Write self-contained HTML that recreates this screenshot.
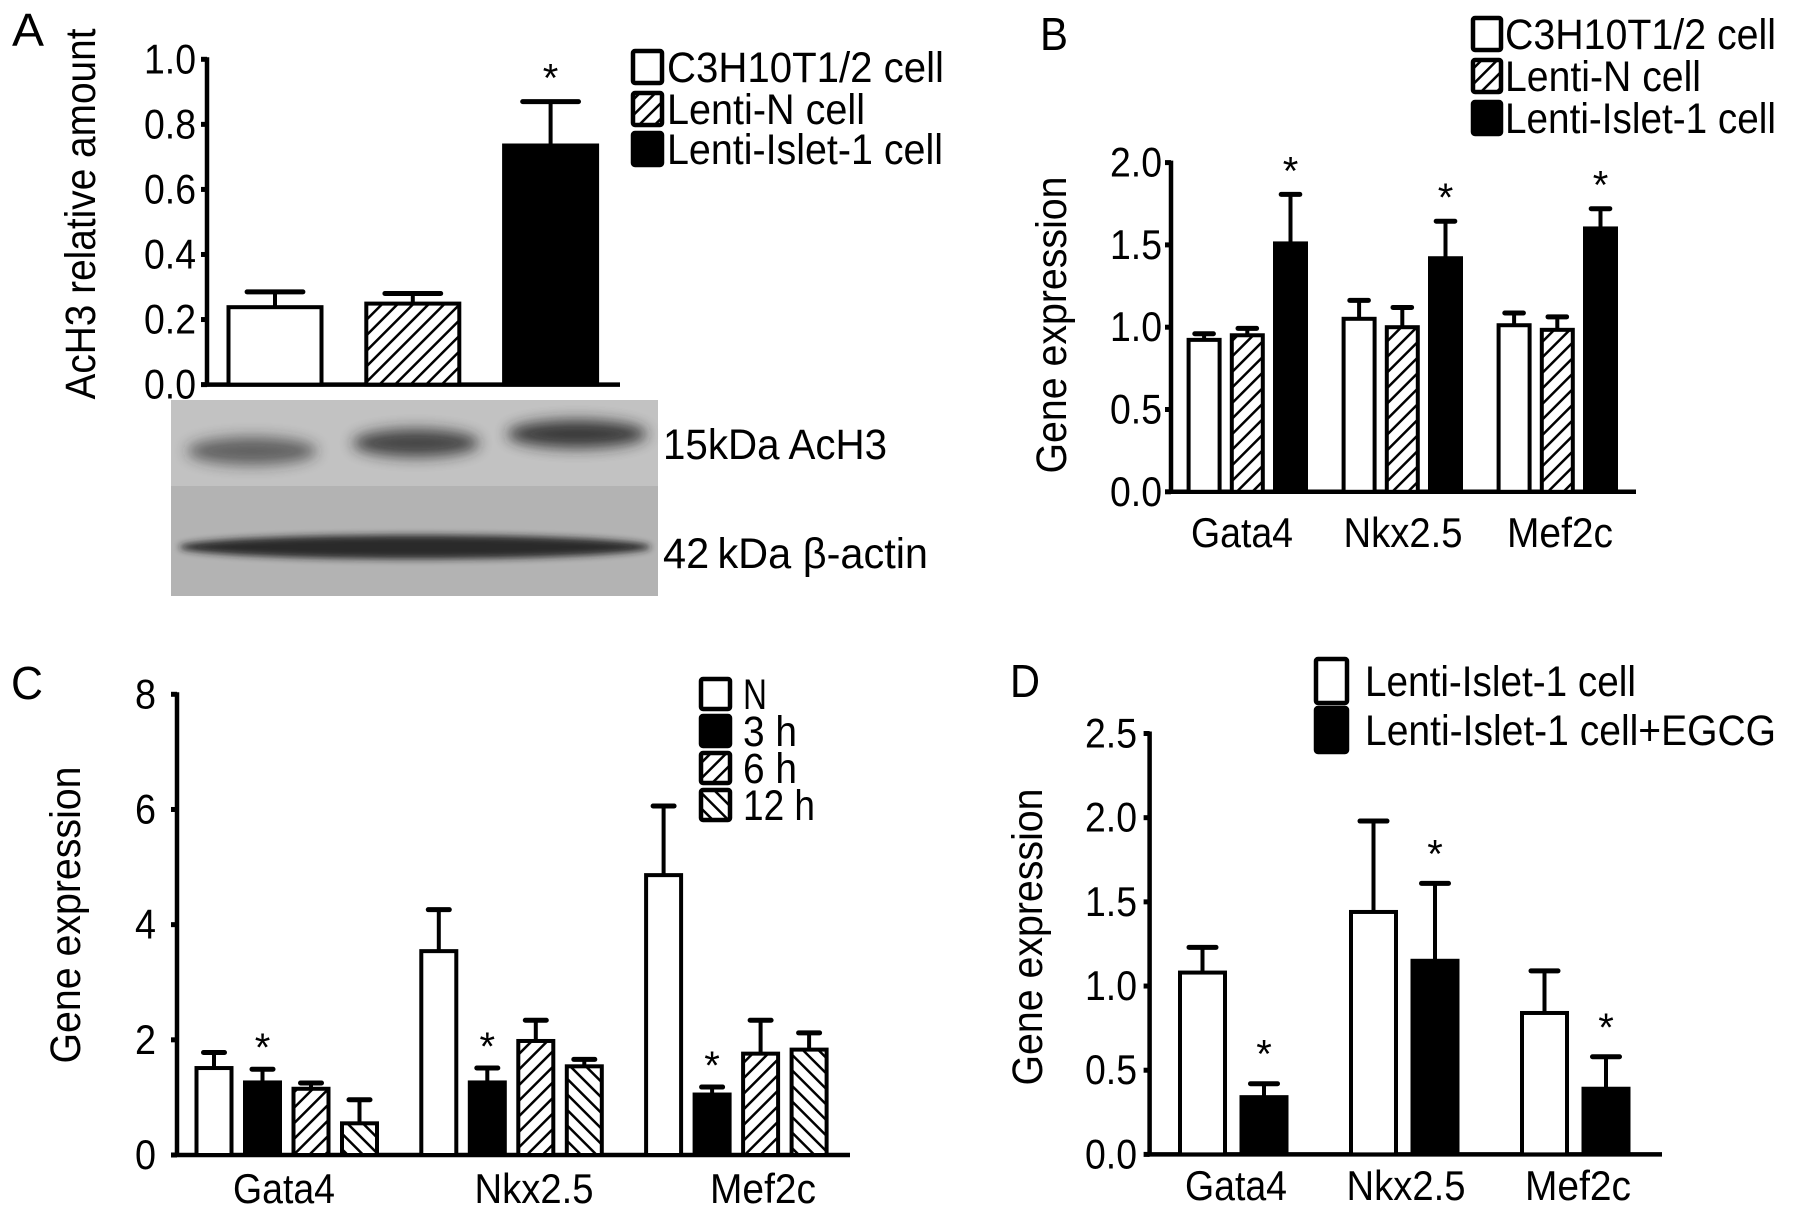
<!DOCTYPE html>
<html><head><meta charset="utf-8">
<style>
html,body{margin:0;padding:0;background:#fff;}
svg{display:block;}
text{font-family:"Liberation Sans",Arial,sans-serif;fill:#000;}
</style></head>
<body>
<svg id="fig" xmlns="http://www.w3.org/2000/svg" width="1795" height="1219" viewBox="0 0 1795 1219">
<defs>
<pattern id="hatchR" patternUnits="userSpaceOnUse" width="11" height="11" patternTransform="rotate(45)">
<rect width="11" height="11" fill="#fff"/><line x1="0" y1="0" x2="0" y2="11" stroke="#000" stroke-width="5"/></pattern>
<pattern id="hatchL" patternUnits="userSpaceOnUse" width="11" height="11" patternTransform="rotate(-45)">
<rect width="11" height="11" fill="#fff"/><line x1="0" y1="0" x2="0" y2="11" stroke="#000" stroke-width="5"/></pattern>
<filter id="blur6" x="-20%" y="-100%" width="140%" height="300%"><feGaussianBlur stdDeviation="7"/></filter>
<filter id="blur3" x="-20%" y="-100%" width="140%" height="300%"><feGaussianBlur stdDeviation="3.5"/></filter>
</defs>
<g id="root"></g>
</svg>
<script>
// ---------- data ----------
// Panel A
const aCats = ["C3H10T1/2 cell","Lenti-N cell","Lenti-Islet-1 cell"];
const aVals = [0.238, 0.249, 0.735];
const aErr = [0.285, 0.28, 0.87];
const aStar = [false, false, true];
const aTicks = ["0.0","0.2","0.4","0.6","0.8","1.0"];
const aTickVals = [0,0.2,0.4,0.6,0.8,1.0];
// Panel B
const bGenes = ["Gata4","Nkx2.5","Mef2c"];
const bSeries = ["C3H10T1/2 cell","Lenti-N cell","Lenti-Islet-1 cell"];
const bC3H = [0.923, 1.051, 1.012];
const bC3HErr = [0.96, 1.163, 1.086];
const bLentiN = [0.951, 1.0, 0.984];
const bLentiNErr = [0.993, 1.12, 1.063];
const bIslet = [1.509, 1.419, 1.6];
const bIsletErr = [1.807, 1.644, 1.72];
const bTicks = ["0.0","0.5","1.0","1.5","2.0"];
const bTickVals = [0,0.5,1.0,1.5,2.0];
// Panel C
const cGenes = ["Gata4","Nkx2.5","Mef2c"];
const cSeries = ["N","3 h","6 h","12 h"];
const cN = [1.51, 3.54, 4.86];
const cNErr = [1.78, 4.26, 6.06];
const c3h = [1.26, 1.26, 1.05];
const c3hErr = [1.49, 1.51, 1.18];
const c6h = [1.15, 1.98, 1.76];
const c6hErr = [1.25, 2.34, 2.34];
const c12h = [0.55, 1.54, 1.83];
const c12hErr = [0.96, 1.66, 2.12];
const cTicks = ["0","2","4","6","8"];
const cTickVals = [0,2,4,6,8];
// Panel D
const dGenes = ["Gata4","Nkx2.5","Mef2c"];
const dSeries = ["Lenti-Islet-1 cell","Lenti-Islet-1 cell+EGCG"];
const dIslet = [1.08, 1.44, 0.84];
const dIsletErr = [1.23, 1.98, 1.09];
const dEGCG = [0.34, 1.15, 0.39];
const dEGCGErr = [0.42, 1.61, 0.58];
const dTicks = ["0.0","0.5","1.0","1.5","2.0","2.5"];
const dTickVals = [0,0.5,1.0,1.5,2.0,2.5];

// ---------- helpers ----------
const NS = "http://www.w3.org/2000/svg";
const root = document.getElementById("root");
function mk(tag, attrs, parent){
  const e = document.createElementNS(NS, tag);
  for (const k in attrs) e.setAttribute(k, attrs[k]);
  (parent||root).appendChild(e);
  return e;
}
function txt(s, attrs, parent){ const t = mk("text", attrs, parent); t.textContent = s; return t; }
const FILLS = {open:"#fff", black:"#000", hatchR:"url(#hatchR)", hatchL:"url(#hatchL)"};

function panel(cfg){
  const g = mk("g", {});
  
  
  const y = v => cfg.y0 - (v - cfg.min) / (cfg.max - cfg.min) * (cfg.y0 - cfg.yTop);
  const ya = mk("line", {x1:cfg.ax, y1:cfg.yTop-2, x2:cfg.ax, y2:cfg.y0+2, stroke:"#000","stroke-width":4.5}, g);
  
  
  const xa = mk("line", {x1:cfg.ax-2, y1:cfg.y0, x2:cfg.xEnd, y2:cfg.y0, stroke:"#000","stroke-width":4.5}, g);
  
  
  cfg.tickVals.forEach((v,i)=>{
    const tk = mk("line", {x1:cfg.ax-6, y1:y(v), x2:cfg.ax, y2:y(v), stroke:"#000","stroke-width":5}, g);
    
    
    const tl = txt(cfg.ticks[i], {x:cfg.tickX, y:y(v)+14, "font-size":42, "text-anchor":"end", "textLength":cfg.ticks[i].length>1?52:21, "lengthAdjust":"spacingAndGlyphs"}, g);
    
    
  });
  const tt = txt(cfg.title, {x:0, y:0, "font-size":43, "text-anchor":"middle", transform:`translate(${cfg.titleX+2},${cfg.titleY}) rotate(-90)`, textLength:cfg.titleLen, lengthAdjust:"spacingAndGlyphs"}, g);
  
  
  const lt = txt(cfg.letter, {x:cfg.letterX, y:cfg.letterY, "font-size":46, textLength:cfg.letterW||30, lengthAdjust:"spacingAndGlyphs"}, g);
  
  
  cfg.series.forEach((s, si)=>{
    s.vals.forEach((v, gi)=>{
      const x0 = cfg.start + gi*cfg.groupStep + si*cfg.barStep;
      const bw = cfg.barW;
      const cx = x0 + bw/2;
      const eb = mk("line", {x1:cx, y1:y(s.err[gi]), x2:cx, y2:y(v), stroke:"#000","stroke-width":4}, g);
      
      
      const cap = mk("line", {x1:cx-bw*0.3, y1:y(s.err[gi]), x2:cx+bw*0.3, y2:y(s.err[gi]), stroke:"#000","stroke-width":5,"stroke-linecap":"round"}, g);
      
      
      const r = mk("rect", {x:x0, y:y(v), width:bw, height:cfg.y0 - y(v), fill:FILLS[s.fill], stroke:"#000","stroke-width":4}, g);
      
      
      if (s.star && s.star[gi]) {
        const st = txt("*", {x:cx, y:y(s.err[gi]) - (cfg.starGap||18) + 6, "font-size":40, "text-anchor":"middle"}, g);
        
        
      }
    });
  });
  if (cfg.cats) cfg.cats.forEach((c,gi)=>{
    const cl = txt(c, {x:cfg.catX[gi], y:cfg.catY+2, "font-size":42, "text-anchor":"middle", textLength:cfg.catLen[gi], lengthAdjust:"spacingAndGlyphs"}, g);
    
    
  });
  cfg.legend.forEach((L,i)=>{
    const cy = cfg.legY[i];
    const lb = mk("rect", {x:cfg.legX, y:cy - cfg.legH/2, width:cfg.legW, height:cfg.legH, fill:FILLS[L.fill], stroke:"#000","stroke-width":4.5, rx:2}, g);
    
    
    const lt2 = txt(L.label, {x:cfg.legTX, y:cy+15, "font-size":43, textLength:L.len, lengthAdjust:"spacingAndGlyphs"}, g);
    
    
  });
  return g;
}

panel({name:"panel-a", letter:"A", letterX:12, letterY:46, letterW:32, ax:207, y0:384.6, yTop:59.3, min:0, max:1, xEnd:620,
  ticks:aTicks, tickVals:aTickVals, tickX:196, title:"AcH3 relative amount", titleX:93, titleY:214, titleLen:371,
  start:228.5, groupStep:0, barStep:137.8, barW:93, catsShort:["all"], starGap:16,
  series:[{vals:[aVals[0]],err:[aErr[0]],fill:"open",star:[aStar[0]]},{vals:[aVals[1]],err:[aErr[1]],fill:"hatchR",star:[aStar[1]]},{vals:[aVals[2]],err:[aErr[2]],fill:"black",star:[aStar[2]]}],
  legend:[{label:aCats[0],fill:"open",len:277},{label:aCats[1],fill:"hatchR",len:198},{label:aCats[2],fill:"black",len:276}],
  legX:633, legW:29, legH:32, legTX:667, legY:[67,109,149]});

panel({name:"panel-b", letter:"B", letterX:1040, letterY:50, letterW:28, ax:1171, y0:491.8, yTop:162.6, min:0, max:2, xEnd:1636,
  ticks:bTicks, tickVals:bTickVals, tickX:1162, title:"Gene expression", titleX:1064, titleY:325, titleLen:297,
  start:1188.6, groupStep:155, barStep:43.2, barW:31, catsShort:bGenes, starGap:16,
  cats:bGenes, catX:[1242,1403,1560], catY:545, catLen:[102,119,106],
  series:[{vals:bC3H,err:bC3HErr,fill:"open"},{vals:bLentiN,err:bLentiNErr,fill:"hatchR"},{vals:bIslet,err:bIsletErr,fill:"black",star:[true,true,true]}],
  legend:[{label:bSeries[0],fill:"open",len:271},{label:bSeries[1],fill:"hatchR",len:196},{label:bSeries[2],fill:"black",len:271}],
  legX:1473, legW:28, legH:32, legTX:1505, legY:[34,76,118]});

panel({name:"panel-c", letter:"C", letterX:11, letterY:699, letterW:32, ax:177, y0:1155, yTop:694.3, min:0, max:8, xEnd:850,
  ticks:cTicks, tickVals:cTickVals, tickX:156, title:"Gene expression", titleX:78, titleY:915, titleLen:297,
  start:196.5, groupStep:224.8, barStep:48.5, barW:35, catsShort:cGenes, starGap:14,
  cats:cGenes, catX:[284,534,763], catY:1201, catLen:[102,119,106],
  series:[{vals:cN,err:cNErr,fill:"open"},{vals:c3h,err:c3hErr,fill:"black",star:[true,true,true]},{vals:c6h,err:c6hErr,fill:"hatchR"},{vals:c12h,err:c12hErr,fill:"hatchL"}],
  legend:[{label:cSeries[0],fill:"open",len:24},{label:cSeries[1],fill:"black",len:54},{label:cSeries[2],fill:"hatchR",len:54},{label:cSeries[3],fill:"hatchL",len:72}],
  legX:701, legW:29, legH:30, legTX:743, legY:[694,731,768,805]});

panel({name:"panel-d", letter:"D", letterX:1010, letterY:697, letterW:30, ax:1149.6, y0:1154.4, yTop:733.5, min:0, max:2.5, xEnd:1662,
  ticks:dTicks, tickVals:dTickVals, tickX:1137, title:"Gene expression", titleX:1040, titleY:937, titleLen:297,
  start:1180, groupStep:171, barStep:61.5, barW:45, catsShort:dGenes, starGap:22,
  cats:dGenes, catX:[1236,1406,1578], catY:1198, catLen:[102,119,106],
  series:[{vals:dIslet,err:dIsletErr,fill:"open"},{vals:dEGCG,err:dEGCGErr,fill:"black",star:[true,true,true]}],
  legend:[{label:dSeries[0],fill:"open",len:271},{label:dSeries[1],fill:"black",len:411}],
  legX:1316, legW:31, legH:44, legTX:1365, legY:[681,730]});

// Western blot
const blot = mk("g", {});


mk("rect", {x:171, y:400, width:487, height:86, fill:"#c2c2c2"}, blot);
mk("rect", {x:171, y:486, width:487, height:110, fill:"#b3b3b3"}, blot);
const bands = [[252,451,130,0.6],[416,443,127,0.78],[577,434,140,0.85]];
bands.forEach(b=>{
  const e = mk("ellipse", {cx:b[0], cy:b[1], rx:b[2]/2, ry:14, fill:"#222", opacity:b[3], filter:"url(#blur6)"}, blot);
  
  
});
const ab = mk("ellipse", {cx:415, cy:547, rx:236, ry:12, fill:"#1c1c1c", opacity:0.9, filter:"url(#blur3)"}, blot);


const bl1 = txt("15kDa AcH3", {x:663, y:459, "font-size":43, textLength:224, lengthAdjust:"spacingAndGlyphs"});


const bl2 = txt("42\u2009kDa  \u03b2-actin", {x:663, y:568, "font-size":43, textLength:265, lengthAdjust:"spacingAndGlyphs"});


</script>
</body></html>
